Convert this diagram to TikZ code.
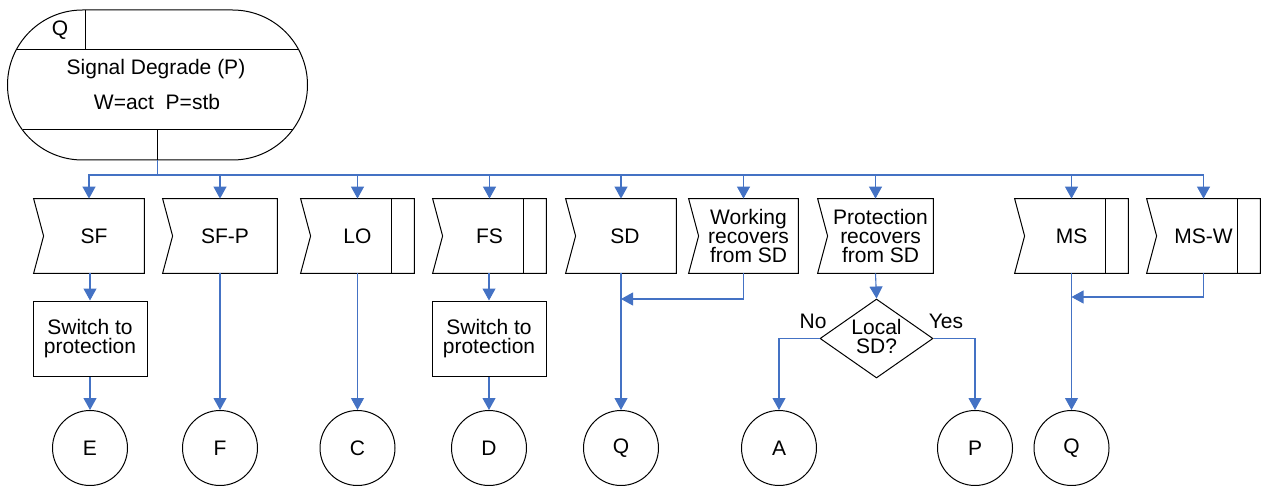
\documentclass[tikz,border=0pt]{standalone}
\usepackage{fontspec}
\setmainfont{Liberation Sans}
\usetikzlibrary{arrows.meta,shapes.geometric,calc}
\definecolor{flowblue}{HTML}{4472C4}
\tikzset{
  every node/.style={font=\fontsize{10.5}{9.3}\selectfont, text=black},
  notchbox/.style={rectangle, minimum height=37pt, inner sep=0pt},
  sbox/.style={draw, line width=0.5pt, rectangle, minimum width=57pt, minimum height=37.5pt, align=center, inner sep=0pt},
  endcircle/.style={draw, line width=0.5pt, circle, minimum size=37.5pt, inner sep=0pt},
  decide/.style={draw, line width=0.5pt, diamond, minimum width=56.5pt, minimum height=39.5pt, inner sep=0pt},
  flow/.style={draw=flowblue, line width=0.55pt},
  arr/.style={flow, -{Triangle[width=6.5pt,length=6pt]}},
  outline/.style={draw=black, line width=0.5pt},
}
\begin{document}
\begin{tikzpicture}[x=0.5pt,y=-0.5pt]
\useasboundingbox (0,0) rectangle (1263,486);

% state box
\node[outline, rectangle, rounded corners=37.5pt, minimum width=150pt, minimum height=75pt, inner sep=0pt] (st) at (157.5,85) {};
\draw[outline] ([shift={(-141.3,-35)}]st.center) -- ([shift={(141.3,-35)}]st.center);
\draw[outline] ([shift={(-135,45)}]st.center) -- ([shift={(135,45)}]st.center);
\draw[outline] ([shift={(-72.5,-75)}]st.center) -- ([shift={(-72.5,-35)}]st.center);
\draw[outline] ([shift={(0,45)}]st.center) -- (st.south);
\node (stq) at (60,30) {Q};
\node (stname) at (156,69) {Signal Degrade (P)};
\node (stvars) at (157,102) {W=act\ \ P=stb};

% input boxes
\node[notchbox, minimum width=55pt, label={[xshift=2.5pt]center:SF}] (sf) at (89,236) {};
\node[notchbox, minimum width=57pt, label={[xshift=2.5pt]center:SF-P}] (sfp) at (220,236) {};
\node[notchbox, minimum width=56.5pt, label={center:LO}] (lo) at (357.5,236) {};
\node[notchbox, minimum width=56.5pt, label={center:FS}] (fs) at (489.5,236) {};
\node[notchbox, minimum width=55pt, label={[xshift=2pt]center:SD}] (sd) at (621,236) {};
\node[notchbox, minimum width=54.5pt, label={[xshift=2.5pt,align=center]center:Working\\recovers\\from SD}] (wr) at (743.5,236) {};
\node[notchbox, minimum width=57.5pt, label={[xshift=2.5pt,align=center]center:Protection\\recovers\\from SD}] (pr) at (875.5,236) {};
\node[notchbox, minimum width=56.5pt, label={center:MS}] (ms) at (1071.5,236) {};
\node[notchbox, minimum width=56.5pt, label={center:MS-W}] (msw) at (1203.5,236) {};

\foreach \n in {sf,sfp,lo,fs,sd,wr,pr,ms,msw}
  \draw[outline] (\n.north west) -- (\n.north east) -- (\n.south east) -- (\n.south west) -- ([xshift=5pt]\n.west) -- cycle;
\foreach \n in {lo,fs,ms,msw}
  \draw[outline] ([xshift=-11.5pt]\n.north east) -- ([xshift=-11.5pt]\n.south east);

% tasks
\node[sbox] (sw1) at (90,338.5) {Switch to\\protection};
\node[sbox] (sw2) at (489,338.5) {Switch to\\protection};

% decision
\node[decide, label={[align=center,yshift=1pt]center:Local\\SD?}] (dec) at (876.5,338.5) {};
\node (no) at (813,321) {No};
\node (yes) at (946,321) {Yes};

% terminals
\node[endcircle] (te) at (90,448) {E};
\node[endcircle] (tf) at (220,448) {F};
\node[endcircle] (tc) at (357.5,448) {C};
\node[endcircle] (td) at (489,448) {D};
\node[endcircle] (tq1) at (621,448) {Q};
\node[endcircle] (ta) at (779,448) {A};
\node[endcircle] (tp) at (975,448) {P};
\node[endcircle] (tq2) at (1071.5,448) {Q};

% bus
\coordinate (bus) at (157.5,175);
\draw[flow] (st.south) -- (bus);
\foreach \n in {sf,sfp,lo,fs,sd,wr,pr,ms,msw}
  \draw[arr] (bus) -| (\n.north);

% flows
\draw[arr] (sf.south -| sw1.north) -- (sw1.north);
\draw[arr] (sw1.south) -- (te);
\draw[arr] (sfp.south) -- (tf);
\draw[arr] (lo.south) -- (tc);
\draw[arr] (fs.south -| sw2.north) -- (sw2.north);
\draw[arr] (sw2.south) -- (td);
\draw[arr] (sd.south) -- (tq1);
\coordinate (m1) at (621,299);
\draw[arr] (wr.south) |- (m1);
\draw[arr] (pr.south) -- (dec.north);
\draw[arr] (dec.west) -| (ta);
\draw[arr] (dec.east) -| (tp);
\draw[arr] (ms.south) -- (tq2);
\coordinate (m2) at (1071.5,297);
\draw[arr] (msw.south) |- (m2);
\end{tikzpicture}
\end{document}
